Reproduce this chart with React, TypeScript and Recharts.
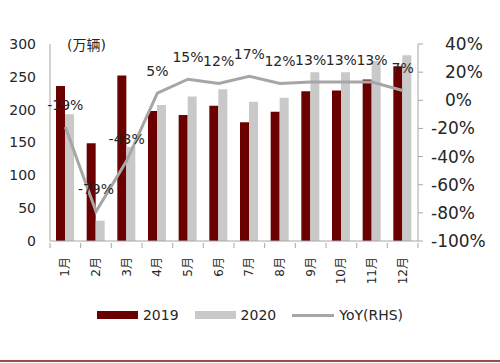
import { Bar, ComposedChart, LabelList, Legend, Line, XAxis, YAxis } from "recharts";

const months = ["1月", "2月", "3月", "4月", "5月", "6月", "7月", "8月", "9月", "10月", "11月", "12月"];
const sales2019 = [236, 149, 252, 198, 192, 206, 181, 197, 228, 229, 246, 266];
const sales2020 = [193, 31, 143, 207, 220, 231, 212, 218, 257, 257, 274, 283];
const yoy = [-19, -79, -43, 5, 15, 12, 17, 12, 13, 13, 13, 7];
const leftTicks = [0, 50, 100, 150, 200, 250, 300];
const rightTicks = [-100, -80, -60, -40, -20, 0, 20, 40];

const FONT = "'DejaVu Sans', 'Noto Sans CJK SC', sans-serif";
const AXIS = "#a6a6a6";
const RED = "#6b0000";
const GRAY = "#c9c9c9";
const LINE = "#a6a6a6";
const TEXT = "#262626";

const rows = months.map((m, i) => ({
  month: m,
  s2019: sales2019[i],
  s2020: sales2020[i],
  yoy: yoy[i],
}));

function MonthTick({ x, y, payload, index }: any) {
  const half = 368 / months.length / 2;
  return (
    <g>
      <line x1={x - half} x2={x - half} y1={y} y2={y + 5} stroke={AXIS} />
      {index === months.length - 1 && (
        <line x1={x + half} x2={x + half} y1={y} y2={y + 5} stroke={AXIS} />
      )}
      <text
        transform={`translate(${x + 4},${y + 14}) rotate(-90)`}
        textAnchor="end"
        fontSize={12}
        fontFamily={FONT}
        fill={TEXT}
      >
        {payload.value}
      </text>
    </g>
  );
}

function PctTick({ x, y, payload }: any) {
  const v = payload.value;
  return (
    <text
      x={v < 0 ? x - 2 : x + 12}
      y={y}
      dy={6}
      textAnchor="start"
      fontSize={17}
      fontFamily={FONT}
      fill={TEXT}
    >
      {v}%
    </text>
  );
}

function LegendBox() {
  const item = (swatch: any, label: string) => (
    <div style={{ display: "flex", alignItems: "center", marginRight: 16 }}>
      {swatch}
      <span style={{ marginLeft: 5, fontSize: 14, lineHeight: "20px", fontFamily: FONT, color: TEXT }}>{label}</span>
    </div>
  );
  return (
    <div style={{ height: 20, display: "flex", justifyContent: "center", paddingLeft: 16 }}>
      {item(<div style={{ width: 41, height: 8, background: RED }} />, "2019")}
      {item(<div style={{ width: 41, height: 8, background: GRAY }} />, "2020")}
      {item(<div style={{ width: 42, height: 3, background: LINE }} />, "YoY(RHS)")}
    </div>
  );
}

export default function App() {
  return (
    <div style={{ position: "absolute", left: 0, top: 0, width: 500, height: 363, background: "#fff" }}>
      <ComposedChart
        width={500}
        height={363}
        data={rows}
        margin={{ top: 44, right: 0, left: 0, bottom: 52 }}
        barGap={0}
        barSize={9}
      >
        <XAxis
          dataKey="month"
          height={50}
          tickLine={false}
          tickSize={0}
          tick={<MonthTick />}
          axisLine={{ stroke: AXIS }}
          interval={0}
        />
        <YAxis
          yAxisId="left"
          width={50}
          domain={[0, 300]}
          ticks={leftTicks}
          tickLine={false}
          tickSize={0}
          tickMargin={14}
          axisLine={{ stroke: AXIS }}
          tick={{ fontSize: 14, fontFamily: FONT, fill: TEXT }}
          label={({ viewBox }: any) => (
            <text
              x={viewBox.x + viewBox.width + 17}
              y={viewBox.y + 6}
              fontSize={14}
              fontFamily={FONT}
              fill={TEXT}
            >
              (万辆)
            </text>
          )}
        />
        <YAxis
          yAxisId="right"
          orientation="right"
          width={82}
          domain={[-100, 40]}
          ticks={rightTicks}
          tickSize={5}
          tickMargin={10}
          tickLine={{ stroke: AXIS }}
          axisLine={{ stroke: AXIS }}
          tick={<PctTick />}
        />
        <Legend
          verticalAlign="bottom"
          content={<LegendBox />}
          wrapperStyle={{ position: "absolute", top: 305, bottom: "auto", left: 0, width: 500, height: 20 }}
        />
        <Bar yAxisId="left" dataKey="s2019" name="2019" fill={RED} isAnimationActive={false} />
        <Bar yAxisId="left" dataKey="s2020" name="2020" fill={GRAY} isAnimationActive={false} />
        <Line
          yAxisId="right"
          dataKey="yoy"
          name="YoY(RHS)"
          type="linear"
          stroke={LINE}
          strokeWidth={3}
          dot={false}
          isAnimationActive={false}
        >
          <LabelList
            dataKey="yoy"
            position="top"
            offset={17}
            formatter={(v: any) => `${v}%`}
            fontSize={14}
            fontFamily={FONT}
            fill={TEXT}
          />
        </Line>
      </ComposedChart>
      <div style={{ position: "absolute", left: 0, top: 360, width: 500, height: 2, background: "#9c4a4a" }} />
    </div>
  );
}
